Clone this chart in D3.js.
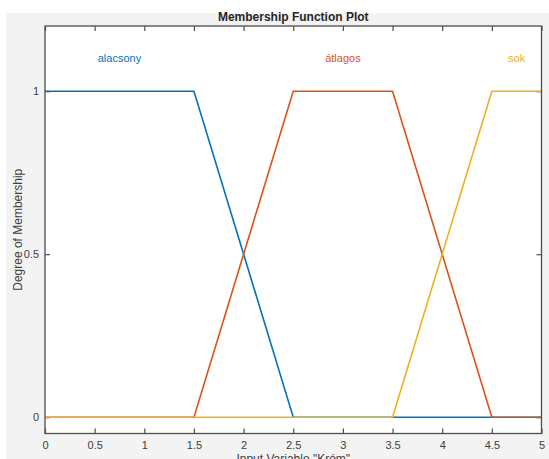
<!DOCTYPE html>
<html>
<head>
<meta charset="utf-8">
<script src="https://cdn.jsdelivr.net/npm/d3@7"></script>
<style>
  body { margin: 0; background: #fff; }
  svg { display: block; font-family: "Liberation Sans", Arial, sans-serif; }
</style>
</head>
<body>
<div id="chart"></div>
<script>
// membership functions of input "Króm"
let names = ["alacsony", "átlagos", "sok"]
let colors = ["#0072BD", "#D95319", "#EDB120"]
let alacsonyX = [0, 1.5, 2.5, 5]
let alacsonyY = [1, 1, 0, 0]
let atlagosX = [0, 1.5, 2.5, 3.5, 4.5, 5]
let atlagosY = [0, 0, 1, 1, 0, 0]
let sokX = [0, 3.5, 4.5, 5]
let sokY = [0, 0, 1, 1]
let labelX = [0.75, 3, 4.75]
let labelY = 1.1
let xTicks = [0, 0.5, 1, 1.5, 2, 2.5, 3, 3.5, 4, 4.5, 5]
let yTicks = [0, 0.5, 1]

let series = [
    {name: names[0], xs: alacsonyX, ys: alacsonyY},
    {name: names[1], xs: atlagosX, ys: atlagosY},
    {name: names[2], xs: sokX, ys: sokY}
]

let W = 549, H = 459
let margin = {top: 26, right: 7.5, bottom: 25.5, left: 45}
let width = W - margin.left - margin.right
let height = H - margin.top - margin.bottom

let root = d3.select("#chart").append("svg")
    .attr("width", W)
    .attr("height", H)

// figure background
root.append("rect")
    .attr("x", 6).attr("y", 13)
    .attr("width", W - 6).attr("height", H - 13)
    .attr("fill", "#f3f3f3")

let svg = root.append("g")
    .attr("transform", "translate(" + margin.left + "," + margin.top + ")")

svg.append("rect")
    .attr("width", width).attr("height", height)
    .attr("fill", "#fff")

let x = d3.scaleLinear().domain([0, 5]).range([0, width])
let y = d3.scaleLinear().domain([-0.05, 1.2]).range([height, 0])
let fmt = d3.format("~g")

function styleAxis(g) {
    g.select(".domain").remove()
    g.selectAll("line").attr("stroke", "#4d4d4d").attr("stroke-width", 1.2)
    g.selectAll("text").attr("fill", "#404040").style("font-size", "11px")
}

// x axis (ticks point inward)
svg.append("g")
    .attr("transform", "translate(0," + height + ")")
    .call(d3.axisBottom(x).tickValues(xTicks).tickFormat(fmt).tickSize(-5).tickPadding(8))
    .call(styleAxis)
svg.append("g")
    .call(d3.axisTop(x).tickValues(xTicks).tickSize(-5).tickFormat(""))
    .call(styleAxis)

// y axis
svg.append("g")
    .call(d3.axisLeft(y).tickValues(yTicks).tickFormat(fmt).tickSize(-5).tickPadding(6))
    .call(styleAxis)
svg.append("g")
    .attr("transform", "translate(" + width + ",0)")
    .call(d3.axisRight(y).tickValues(yTicks).tickSize(-5).tickFormat(""))
    .call(styleAxis)

let line = d3.line()
    .x(function (d) { return x(d[0]) })
    .y(function (d) { return y(d[1]) })

series.forEach(function (s, i) {
    let pts = s.xs.map(function (v, j) { return [v, s.ys[j]] })
    svg.append("path")
        .datum(pts)
        .attr("fill", "none")
        .attr("stroke", colors[i])
        .attr("stroke-width", 1.6)
        .attr("d", line)

    svg.append("text")
        .attr("x", x(labelX[i]))
        .attr("y", y(labelY))
        .attr("dy", "0.35em")
        .attr("text-anchor", "middle")
        .attr("fill", colors[i])
        .style("font-size", "11px")
        .text(s.name)
})

// box
svg.append("rect")
    .attr("width", width).attr("height", height)
    .attr("fill", "none")
    .attr("stroke", "#4d4d4d")
    .attr("stroke-width", 1.3)

// title and axis labels
svg.append("text")
    .attr("x", width / 2)
    .attr("y", -5)
    .attr("text-anchor", "middle")
    .attr("fill", "#262626")
    .style("font-size", "12px")
    .style("font-weight", "bold")
    .text("Membership Function Plot")

svg.append("text")
    .attr("x", width / 2)
    .attr("y", height + 29)
    .attr("text-anchor", "middle")
    .attr("fill", "#404040")
    .style("font-size", "12px")
    .text('Input Variable "Króm"')

svg.append("text")
    .attr("transform", "translate(-23," + (height / 2) + ") rotate(-90)")
    .attr("text-anchor", "middle")
    .attr("fill", "#404040")
    .style("font-size", "12px")
    .text("Degree of Membership")
</script>
</body>
</html>
